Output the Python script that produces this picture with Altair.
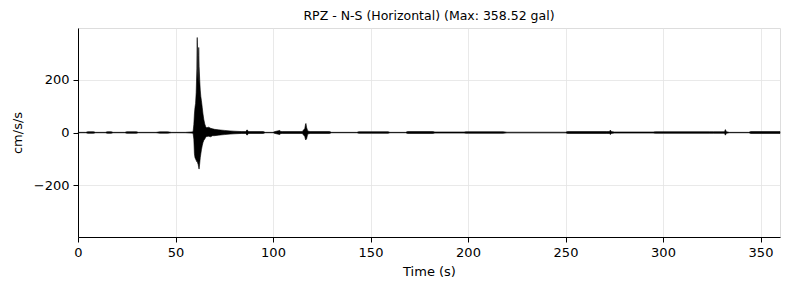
import altair as alt
import pandas as pd

# Envelope of the N-S acceleration record (cm/s/s)
time_s = [0, 4, 5, 8, 9, 14, 15, 17, 18, 24, 25, 30, 31, 40, 42, 46, 48, 55, 58,
          59.0, 59.4, 59.7, 60.0, 60.3, 60.6, 60.95, 61.05, 61.15, 61.25, 61.35,
          61.6, 61.8, 61.9, 62.0, 62.1,
          62.4, 62.7, 63.0, 63.3, 63.7, 64.1, 64.5, 65.0, 65.5, 66.0, 67.0, 68.0,
          69.0, 70.0, 72.0, 75.0, 78.0, 80.0, 84.0, 86.0, 86.7, 87.5, 95.0, 96.0,
          100.0, 101.0, 103.5, 104.0, 105.0, 115.0, 116.3, 116.7, 116.9, 117.2, 117.8,
          119.0, 129.0, 130.0, 143.0, 144.0, 159.0, 160.0, 168.0, 169.0, 182.0,
          183.0, 198.0, 199.0, 218.0, 220.0, 250.0, 251.0, 271.0, 272.5, 273.0,
          273.5, 275.0, 295.0, 296.0, 324.0, 326.0, 331.5, 332.0, 332.5, 334.0,
          344.0, 345.0, 360.0]
upper = [0.6, 0.6, 3, 3, 0.6, 0.6, 3, 3, 0.6, 0.6, 3, 3, 0.6, 0.6, 2.5, 2.5, 0.6, 0.6, 2,
         2.5, 30, 70, 95, 110, 150, 240, 340, 358.5, 330, 230,
         190, 290, 321, 300, 250,
         200, 160, 135, 120, 95, 70, 50, 32, 22, 18, 20, 16,
         14, 12, 10, 8, 6, 5, 3.5, 3.5, 10, 3.5, 3.5, 0.6,
         0.6, 3.5, 8, 3.5, 3.5, 3.5, 15, 32, 34, 20, 6,
         3.5, 3.5, 0.6, 0.6, 3, 3, 0.6, 0.6, 3.5, 3.5,
         2, 2, 3, 3, 1.2, 1.2, 3.5, 3.5, 3.5, 9,
         3.5, 2, 2, 3, 3, 3, 3, 11, 3, 0.6,
         0.6, 3.5, 3.5]
lower = [-0.6, -0.6, -3, -3, -0.6, -0.6, -3, -3, -0.6, -0.6, -3, -3, -0.6, -0.6, -2.5, -2.5, -0.6, -0.6, -2,
         -2.5, -25, -80, -95, -100, -105, -110, -108, -110, -112, -115,
         -120, -128, -132, -136, -138,
         -118, -95, -80, -65, -50, -38, -30, -25, -18, -15, -14, -16,
         -12, -12, -10, -8, -6, -5, -3.5, -3.5, -10, -3.5, -3.5, -0.6,
         -0.6, -3.5, -8, -3.5, -3.5, -3.5, -15, -28, -26, -25, -6,
         -3.5, -3.5, -0.6, -0.6, -3, -3, -0.6, -0.6, -3.5, -3.5,
         -2, -2, -3, -3, -1.2, -1.2, -3.5, -3.5, -3.5, -8,
         -3.5, -2, -2, -3, -3, -3, -3, -10, -3, -0.6,
         -0.6, -3.5, -3.5]

x_ticks = [0, 50, 100, 150, 200, 250, 300, 350]
y_ticks = [-200, 0, 200]
peak = 358.52

df = pd.DataFrame({"t": time_s, "hi": upper, "lo": lower})

FONT = "DejaVu Sans"

x = alt.X("t:Q",
          scale=alt.Scale(domain=[0, 360], nice=False, zero=False),
          axis=alt.Axis(values=x_ticks, title="Time (s)", format="d",
                        grid=True, gridColor="#e3e3e3", gridWidth=0.8,
                        domainColor="black", tickColor="black", tickSize=5,
                        labelPadding=4, labelFontSize=13, labelFont=FONT,
                        labelColor="black", titleFont=FONT, titleFontSize=13,
                        titleFontWeight="normal", titleColor="black",
                        titlePadding=6, labelFlush=False))
y = alt.Y("hi:Q",
          scale=alt.Scale(domain=[-1.1 * peak, 1.1 * peak], nice=False, zero=False),
          axis=alt.Axis(values=y_ticks, title="cm/s/s", format="d",
                        grid=True, gridColor="#e3e3e3", gridWidth=0.8,
                        domainColor="black", tickColor="black", tickSize=5,
                        labelPadding=4, labelFontSize=13, labelFont=FONT,
                        labelColor="black", titleFont=FONT, titleFontSize=13,
                        titleFontWeight="normal", titleColor="black",
                        titlePadding=9))

area = alt.Chart(df).mark_area(color="black", interpolate="linear",
                               stroke="black", strokeWidth=0.6).encode(
    x=x, y=y, y2="lo:Q")

chart = area.properties(
    width=702, height=209,
    title=alt.TitleParams(text=f"RPZ - N-S (Horizontal) (Max: {peak} gal)",
                          font=FONT, fontSize=12.5, fontWeight="normal",
                          color="black", anchor="middle", offset=6),
    autosize=alt.AutoSizeParams(type="none"),
    padding={"left": 78, "top": 28, "right": 9, "bottom": 53},
).configure_view(stroke="black", strokeWidth=1).configure(background="white")

chart.save("out.html", embed_options={"renderer": "svg", "actions": False})
